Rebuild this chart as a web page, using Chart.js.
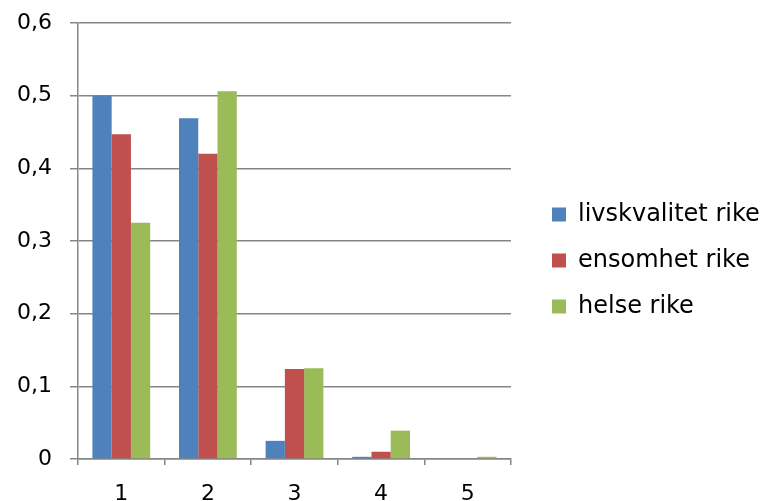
<!DOCTYPE html>
<html>
<head>
<meta charset="utf-8">
<script src="https://cdn.jsdelivr.net/npm/chart.js@4/dist/chart.umd.min.js"></script>
<style>
  html, body { margin: 0; padding: 0; background: #fff; }
  #wrap { width: 762px; height: 501px; position: relative; }
</style>
</head>
<body>
<div id="wrap"><canvas id="rikeChart"></canvas></div>
<script>
// Kategorier og verdier lest av figuren
const kategorier = ['1', '2', '3', '4', '5'];
const livskvalitet = [0.5, 0.469, 0.025, 0.003, 0];
const ensomhet = [0.447, 0.42, 0.124, 0.010, 0];
const helse = [0.325, 0.506, 0.125, 0.039, 0.003];
const yTicks = [0, 0.1, 0.2, 0.3, 0.4, 0.5, 0.6];

const gridFarge = '#868686';
const fontFamilie = '"DejaVu Sans", Verdana, sans-serif';

// Fast bredde og plassering av forklaringen til hoeyre
const legendPlass = {
    id: 'legendPlass',
    afterInit(chart) {
        const legend = chart.legend;
        const origFit = legend.fit;
        legend.fit = function() {
            origFit.call(this);
            this.width = 251;
        };
    },
    afterLayout(chart) {
        chart.legend.left += 19;
        chart.legend.top += 10;
        chart.legend.bottom += 10;
    }
};

function initRikeChart() {
    const el = document.getElementById('rikeChart');
    if (!el) return;

    const ctx = el.getContext('2d');
    new Chart(ctx, {
        type: 'bar',
        data: {
            labels: kategorier,
            datasets: [
                { label: 'livskvalitet rike', data: livskvalitet, backgroundColor: '#4f81bd' },
                { label: 'ensomhet rike', data: ensomhet, backgroundColor: '#c0504d' },
                { label: 'helse rike', data: helse, backgroundColor: '#9bbb59' }
            ]
        },
        options: {
            responsive: true,
            maintainAspectRatio: false,
            animation: false,
            datasets: {
                bar: { categoryPercentage: 0.667, barPercentage: 1.0, borderWidth: 0 }
            },
            layout: { padding: { top: 0, right: 0, left: 0, bottom: 0 } },
            scales: {
                x: {
                    afterFit: function(scale) { scale.height = 42; },
                    grid: { offset: true, drawOnChartArea: false, color: gridFarge, tickLength: 6, lineWidth: 1.5 },
                    border: { color: gridFarge, width: 1.5 },
                    ticks: { color: '#000', font: { family: fontFamilie, size: 22 }, padding: 16 }
                },
                y: {
                    min: 0,
                    max: 0.6,
                    afterBuildTicks: function(axis) {
                        axis.ticks = yTicks.map(v => ({ value: v }));
                    },
                    afterFit: function(scale) {
                        scale.paddingTop = 23;
                        scale.width = 78;
                    },
                    grid: { color: gridFarge, tickLength: 8, lineWidth: 1.5 },
                    border: { color: gridFarge, width: 1.5 },
                    ticks: {
                        color: '#000',
                        font: { family: fontFamilie, size: 22 },
                        padding: 18,
                        callback: function(value) {
                            return value === 0 ? '0' : value.toFixed(1).replace('.', ',');
                        }
                    }
                }
            },
            plugins: {
                legend: {
                    position: 'right',
                    align: 'center',
                    labels: {
                        color: '#000',
                        font: { family: fontFamilie, size: 24 },
                        boxWidth: 14,
                        boxHeight: 14,
                        padding: 22
                    }
                },
                tooltip: { enabled: false }
            }
        },
        plugins: [legendPlass]
    });
}

initRikeChart();
</script>
</body>
</html>
